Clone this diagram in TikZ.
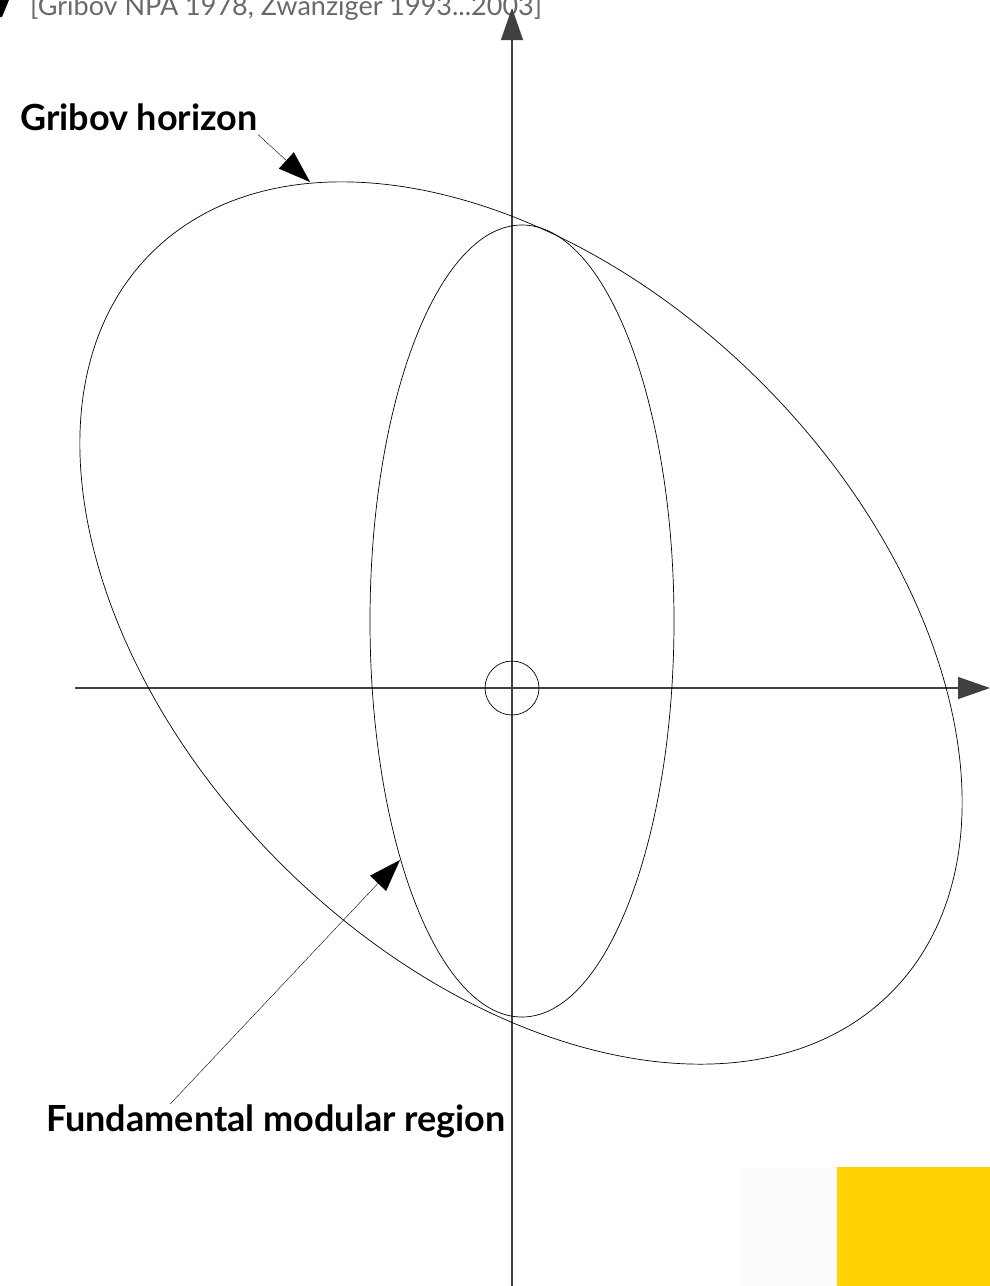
\documentclass[tikz,border=0pt]{standalone}
\usepackage{fontspec}
\setmainfont{Lato}
\usetikzlibrary{arrows.meta, positioning, calc}
\definecolor{refgray}{RGB}{105,105,105}
\definecolor{badgeyellow}{RGB}{255,210,0}

\begin{document}
\begin{tikzpicture}[x=1pt, y=-1pt, >={Triangle[length=32pt, width=22pt]}, every node/.style={font=\fontsize{36}{40}\selectfont\bfseries, inner sep=0pt}]
\useasboundingbox (0,0) rectangle (990,1286);
% corner pieces of the slide
\fill[black!1] (740,1167) rectangle (837,1286);
\fill[badgeyellow] (837,1167) rectangle (990,1286);
\fill (0,0) -- (9,0) -- (2,17) -- (0,17) -- cycle;
\node[anchor=base west, text=refgray, font=\fontsize{27}{30}\selectfont] (refs) at (30,15) {[Gribov NPA 1978, Zwanziger 1993...2003]};
% axes and the origin
\draw[->, black!75, line width=1.2pt] (75,688) -- (990,688);
\draw[->, black!75, line width=1.2pt] (512,1286) -- (512,8);
\draw[line width=0.7pt] (512,688) circle[radius=27];
% Gribov horizon and the fundamental modular region inside it
\draw[line width=0.7pt, rotate around={-45:(521,623)}] (521,623) ellipse[x radius=523, y radius=340];
\draw[line width=0.7pt] (522,621) ellipse[x radius=152, y radius=396];
% labels
\node[anchor=base west] (gribov) at (20,130) {Gribov horizon};
\node[anchor=base west] (fmr) at (46,1131) {Fundamental modular region};
\coordinate (hortip) at (310,182);
\coordinate (fmrtip) at (400,860);
\draw[->] ($(gribov.south east)+(0,4)$) -- (hortip);
\draw[->] ($(fmr.north west)!0.27!(fmr.north east)$) -- (fmrtip);
\end{tikzpicture}
\end{document}
